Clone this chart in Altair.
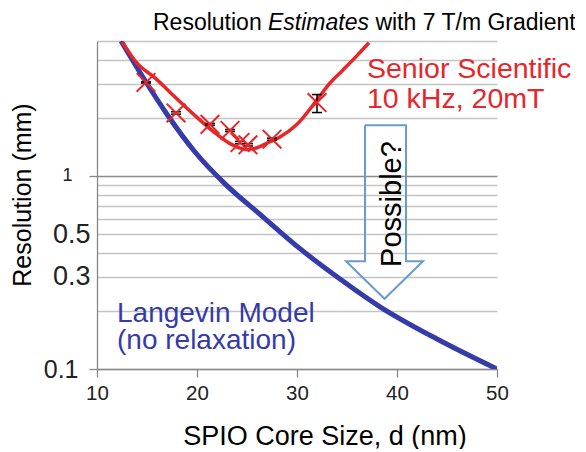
import altair as alt
import pandas as pd

# ---------------- data ----------------
# Langevin model (no relaxation), blue curve
lang_d = [12.4, 14.8, 17.1, 19.8, 22.8, 26.5, 30.3, 34.2, 38.3, 44.0, 50.0]
lang_r = [5.0, 3.12, 2.05, 1.33, 0.91, 0.62, 0.42, 0.295, 0.21, 0.143, 0.10]

# Senior Scientific fit, red curve
sen_d = [12.5, 14.0, 15.8, 17.5, 20.0, 22.0, 23.3, 24.2, 25.0, 26.0, 27.0, 28.3, 30.0, 32.0, 33.3, 34.6, 36.0, 37.2]
sen_r = [4.95, 3.84, 3.22, 2.65, 2.01, 1.64, 1.47, 1.40, 1.37, 1.40, 1.48, 1.59, 1.85, 2.48, 3.03, 3.54, 4.20, 4.90]

# measured points (red crosses) with error bars
pt_d = [14.9, 17.9, 21.3, 23.3, 24.3, 25.1, 27.5, 32.0]
pt_r = [3.05, 2.12, 1.85, 1.72, 1.49, 1.45, 1.55, 2.40]
pt_lo = [3.03, 2.09, 1.83, 1.70, 1.47, 1.43, 1.53, 2.13]
pt_hi = [3.07, 2.15, 1.87, 1.74, 1.51, 1.47, 1.57, 2.64]

# "Possible?" arrow outline (data space)
arrow_d = [36.8, 40.9, 40.9, 42.6, 38.75, 34.9, 36.8, 36.8]
arrow_r = [1.83, 1.83, 0.362, 0.362, 0.231, 0.362, 0.362, 1.83]

# axes
x_ticks = [10, 20, 30, 40, 50]
y_grid = [0.1, 0.2, 0.3, 0.4, 0.5, 0.6, 0.7, 0.8, 0.9, 1, 2, 3, 4, 5]
y_labels = ["0.1", "0.3", "0.5", "1"]

# texts
title_parts = ["Resolution", "Estimates", "with 7 T/m Gradient"]
x_title = "SPIO Core Size, d (nm)"
y_title = "Resolution (mm)"
red_lines = ["Senior Scientific", "10 kHz, 20mT"]
blue_lines = ["Langevin Model", "(no relaxation)"]
arrow_text = "Possible?"

# ---------------- styling ----------------
FONT = "Liberation Sans"
BLUE = "#353ba8"
RED = "#e8262a"
ARROW = "#6a9bd0"

W, H = 400, 328

blue_df = pd.DataFrame({"d": lang_d, "r": lang_r})
red_df = pd.DataFrame({"d": sen_d, "r": sen_r})
pts_df = pd.DataFrame({"d": pt_d, "r": pt_r, "lo": pt_lo, "hi": pt_hi})
arrow_df = pd.DataFrame({"d": arrow_d, "r": arrow_r, "i": list(range(len(arrow_d)))})

xs = alt.Scale(domain=[10, 50], nice=False)
ys = alt.Scale(type="log", domain=[0.1, 5], nice=False)

label_map = " : ".join(
    [f"datum.value == {v} ? '{v}'" for v in y_labels]
) + " : ''"

is_mid = "datum.value == 0.3 || datum.value == 0.5"
y_axis = alt.Axis(
    title=None,
    values=y_grid,
    labelExpr=label_map,
    labelFont=FONT,
    labelColor="#222222",
    labelFontSize={"condition": [{"test": is_mid, "value": 27},
                                 {"test": "datum.value == 1", "value": 18}],
                   "value": 25},
    labelPadding={"condition": [{"test": is_mid, "value": -1},
                                {"test": "datum.value == 1", "value": 17}],
                  "value": 11},
    labelFlush=False,
    tickSize=8,
    tickWidth=1.3,
    tickColor={"condition": {"test": "datum.value == 0.1 || datum.value == 1", "value": "#888888"},
               "value": "transparent"},
    grid=True,
    gridColor={"condition": {"test": "datum.value == 1", "value": "#8c8c8c"}, "value": "#c4c4c4"},
    gridWidth=1.4,
    domainColor="#888888",
    domainWidth=1.3,
    labelOverlap=False,
)
x_axis = alt.Axis(
    title=None,
    values=x_ticks,
    labelFont=FONT,
    labelFontSize=20.5,
    labelColor="#222222",
    labelPadding=6,
    labelFlush=False,
    tickSize=8,
    tickWidth=1.3,
    tickColor="#888888",
    grid=False,
    domainColor="#888888",
    domainWidth=1.3,
)


def X(field="d"):
    return alt.X(f"{field}:Q", scale=xs, axis=x_axis)


def Y(field="r"):
    return alt.Y(f"{field}:Q", scale=ys, axis=y_axis)


blue = alt.Chart(blue_df).mark_line(color=BLUE, strokeWidth=5, interpolate="monotone", clip=True).encode(
    x=X(), y=Y()
)
red = alt.Chart(red_df).mark_line(color=RED, strokeWidth=3.5, interpolate="monotone", clip=True).encode(
    x=X(), y=Y()
)
crosses = alt.Chart(pts_df).mark_point(
    shape="M-1,-1L1,1M-1,1L1,-1", size=350, strokeWidth=2, color=RED, filled=False, opacity=1
).encode(x=X(), y=Y())
err_rule = alt.Chart(pts_df).mark_rule(color="black", strokeWidth=1.5).encode(
    x=X(), y=Y("lo"), y2="hi:Q"
)
cap_lo = alt.Chart(pts_df).mark_point(
    shape="M-1,0L1,0", size=100, strokeWidth=1.5, color="black", filled=False, opacity=1
).encode(x=X(), y=Y("lo"))
cap_hi = alt.Chart(pts_df).mark_point(
    shape="M-1,0L1,0", size=100, strokeWidth=1.5, color="black", filled=False, opacity=1
).encode(x=X(), y=Y("hi"))
arrow = alt.Chart(arrow_df).mark_line(color=ARROW, strokeWidth=2, strokeJoin="miter").encode(
    x=X(), y=Y(), order="i:Q"
)


def txt(text, x, y, size, color="black", align="left", baseline="alphabetic", **kw):
    return alt.Chart(pd.DataFrame({"t": [text]})).mark_text(
        font=FONT, fontSize=size, color=color, align=align, baseline=baseline, **kw
    ).encode(x=alt.value(x), y=alt.value(y), text="t:N")


texts = [
    txt(title_parts[0], 56, -11, 23),
    txt(title_parts[1], 171, -11, 23, fontStyle="italic"),
    txt(title_parts[2], 278.4, -11, 23),
    txt(red_lines[0], 270, 37, 28.5, RED),
    txt(red_lines[1], 270, 67, 28.5, RED),
    txt(blue_lines[0], 20, 281, 28, BLUE),
    txt(blue_lines[1], 20, 308, 28, BLUE),
    txt(arrow_text, 304, 163, 29, "black", align="center", angle=270),
    txt(x_title, 228, 404, 27, "black", align="center"),
    txt(y_title, -66, 154, 25, "black", align="center", angle=270),
]

chart = alt.layer(blue, red, arrow, err_rule, cap_lo, cap_hi, crosses, *texts).properties(
    width=W,
    height=H,
    autosize=alt.AutoSizeParams(type="none"),
    padding={"left": 89, "top": 33, "right": 78, "bottom": 80},
    background="white",
).configure_view(stroke=None)

chart.save("out.html", embed_options={"renderer": "svg", "actions": False})
